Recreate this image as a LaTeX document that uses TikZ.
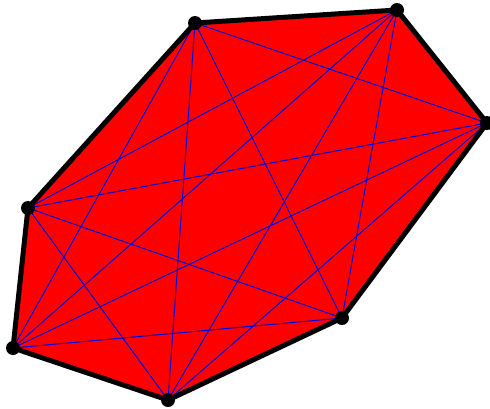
\documentclass[tikz,border=0pt]{standalone}
\begin{document}
\begin{tikzpicture}[x=1pt,y=-1pt,
  diag/.style={blue!85!black, line width=1pt},
  hull/.style={line width=5pt, line join=round},
  vdot/.style={circle, fill=black, inner sep=0pt, minimum size=14pt}]
\useasboundingbox (0,0) rectangle (490,408);
\coordinate (A) at (195,23);
\coordinate (B) at (397,10);
\coordinate (C) at (487,123);
\coordinate (D) at (342,318);
\coordinate (E) at (168,400);
\coordinate (F) at (13,348);
\coordinate (G) at (28,208);
\fill[red] (A) -- (B) -- (C) -- (D) -- (E) -- (F) -- (G) -- cycle;
\foreach \p/\q in {A/C,A/D,A/E,A/F,B/D,B/E,B/F,B/G,C/E,C/F,C/G,D/F,D/G,E/G}
  \draw[diag] (\p) -- (\q);
\draw[hull] (A) -- (B) -- (C) -- (D) -- (E) -- (F) -- (G) -- cycle;
\foreach \v in {A,B,C,D,E,F,G}
  \node[vdot] (n\v) at (\v) {};
\end{tikzpicture}
\end{document}
